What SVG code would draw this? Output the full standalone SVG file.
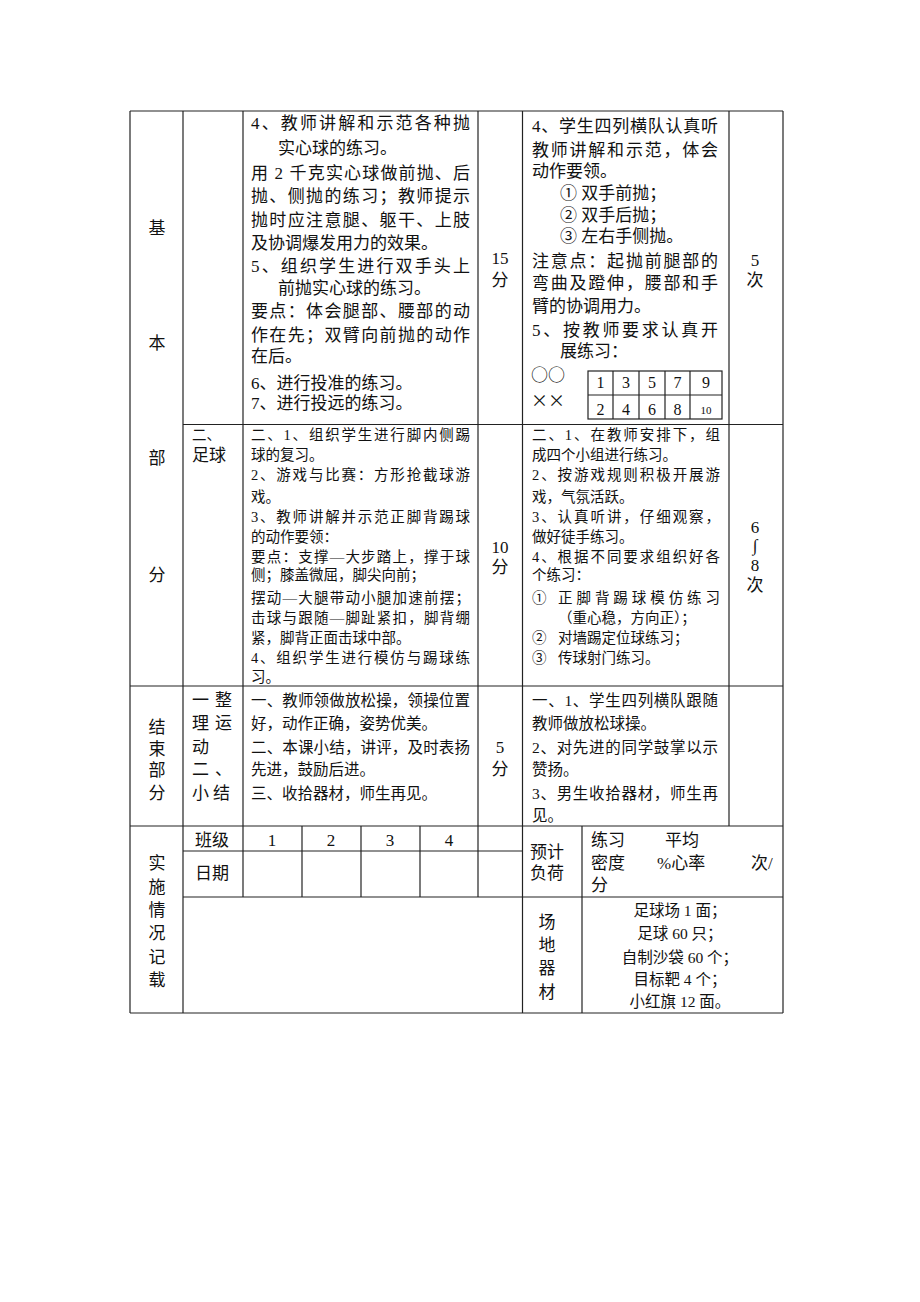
<svg xmlns="http://www.w3.org/2000/svg" width="920" height="1302" viewBox="0 0 920 1302">
<style>
text{font-family:"Liberation Serif","Noto Sans CJK SC",serif;fill:#111}
.a{font-size:17px}
.b{font-size:14.5px}
.c{font-size:15.5px}
.d{font-size:16px}
.k{font-family:"Noto Sans CJK SC",sans-serif}
.m{text-anchor:middle}
.g line,.g rect{stroke:#222;stroke-width:1.2;fill:none}
</style>
<rect width="920" height="1302" fill="#fff"/>
<g id="grid" class="g">
<line x1="130" y1="111" x2="783" y2="111"/>
<line x1="183" y1="424.5" x2="783" y2="424.5"/>
<line x1="130" y1="686" x2="783" y2="686"/>
<line x1="130" y1="826" x2="783" y2="826"/>
<line x1="183" y1="851" x2="522.5" y2="851"/>
<line x1="183" y1="897" x2="783" y2="897"/>
<line x1="130" y1="1013" x2="783" y2="1013"/>
<line x1="130" y1="111" x2="130" y2="1013"/>
<line x1="183" y1="111" x2="183" y2="1013"/>
<line x1="243" y1="111" x2="243" y2="897"/>
<line x1="302" y1="826" x2="302" y2="897"/>
<line x1="361" y1="826" x2="361" y2="897"/>
<line x1="420" y1="826" x2="420" y2="897"/>
<line x1="478" y1="111" x2="478" y2="897"/>
<line x1="522.5" y1="111" x2="522.5" y2="1013"/>
<line x1="582" y1="826" x2="582" y2="1013"/>
<line x1="729" y1="111" x2="729" y2="826"/>
<line x1="783" y1="111" x2="783" y2="1013"/>
<rect x="588" y="371" width="134" height="48"/>
<line x1="588" y1="395" x2="722" y2="395"/>
<line x1="613" y1="371" x2="613" y2="419"/>
<line x1="639" y1="371" x2="639" y2="419"/>
<line x1="665" y1="371" x2="665" y2="419"/>
<line x1="690" y1="371" x2="690" y2="419"/>
</g>
<g id="col1">
<text class="a m" x="157" y="234">基</text>
<text class="a m" x="157" y="349">本</text>
<text class="a m" x="157" y="464">部</text>
<text class="a m" x="157" y="581">分</text>
<text class="a m" x="157" y="733">结</text>
<text class="a m" x="157" y="755">束</text>
<text class="a m" x="157" y="776">部</text>
<text class="a m" x="157" y="799">分</text>
<text class="a m" x="157" y="869">实</text>
<text class="a m" x="157" y="893">施</text>
<text class="a m" x="157" y="916">情</text>
<text class="a m" x="157" y="939">况</text>
<text class="a m" x="157" y="963">记</text>
<text class="a m" x="157" y="986">载</text>
</g>
<g id="row1-content">
<text class="a" x="251" y="129" textLength="219" lengthAdjust="spacing">4、教师讲解和示范各种抛</text>
<text class="a" x="278" y="154">实心球的练习。</text>
<text class="a" x="251" y="179" textLength="219" lengthAdjust="spacing">用 2 千克实心球做前抛、后</text>
<text class="a" x="251" y="202" textLength="219" lengthAdjust="spacing">抛、侧抛的练习；教师提示</text>
<text class="a" x="251" y="226" textLength="219" lengthAdjust="spacing">抛时应注意腿、躯干、上肢</text>
<text class="a" x="251" y="249">及协调爆发用力的效果。</text>
<text class="a" x="251" y="272" textLength="219" lengthAdjust="spacing">5、组织学生进行双手头上</text>
<text class="a" x="278" y="294">前抛实心球的练习。</text>
<text class="a" x="251" y="317" textLength="219" lengthAdjust="spacing">要点：体会腿部、腰部的动</text>
<text class="a" x="251" y="341" textLength="219" lengthAdjust="spacing">作在先；双臂向前抛的动作</text>
<text class="a" x="251" y="362">在后。</text>
<text class="a" x="251" y="389">6、进行投准的练习。</text>
<text class="a" x="251" y="409">7、进行投远的练习。</text>
<text class="a m" x="500" y="264">15</text>
<text class="a m" x="500" y="286">分</text>
<text class="a" x="532" y="132" textLength="186" lengthAdjust="spacing">4、学生四列横队认真听</text>
<text class="a" x="532" y="156" textLength="186" lengthAdjust="spacing">教师讲解和示范，体会</text>
<text class="a" x="532" y="177">动作要领。</text>
<text class="a" x="560" y="199">① 双手前抛；</text>
<text class="a" x="560" y="221">② 双手后抛；</text>
<text class="a" x="560" y="242">③ 左右手侧抛。</text>
<text class="a" x="532" y="267" textLength="186" lengthAdjust="spacing">注意点：起抛前腿部的</text>
<text class="a" x="532" y="289" textLength="186" lengthAdjust="spacing">弯曲及蹬伸，腰部和手</text>
<text class="a" x="532" y="312">臂的协调用力。</text>
<text class="a" x="532" y="336" textLength="186" lengthAdjust="spacing">5、按教师要求认真开</text>
<text class="a" x="560" y="357">展练习：</text>
<text class="a k" x="531" y="381">○○</text>
<text class="a k" x="531" y="407">××</text>
<text class="d m" x="600.5" y="388">1</text>
<text class="d m" x="626" y="388">3</text>
<text class="d m" x="652" y="388">5</text>
<text class="d m" x="677.5" y="388">7</text>
<text class="d m" x="706" y="388">9</text>
<text class="d m" x="600.5" y="415">2</text>
<text class="d m" x="626" y="415">4</text>
<text class="d m" x="652" y="415">6</text>
<text class="d m" x="677.5" y="415">8</text>
<text class="m" style="font-size:11px" x="706" y="414">10</text>
<text class="a m" x="755" y="266">5</text>
<text class="a m" x="755" y="286">次</text>
</g>
<g id="row2-content">
<text class="b" x="192" y="440">二、</text>
<text class="a" x="192" y="461">足球</text>
<text class="b" x="251" y="440" textLength="219" lengthAdjust="spacing">二、1、组织学生进行脚内侧踢</text>
<text class="b" x="251" y="460">球的复习。</text>
<text class="b" x="251" y="480" textLength="219" lengthAdjust="spacing">2、游戏与比赛：方形抢截球游</text>
<text class="b" x="251" y="502">戏。</text>
<text class="b" x="251" y="522" textLength="219" lengthAdjust="spacing">3、教师讲解并示范正脚背踢球</text>
<text class="b" x="251" y="542">的动作要领：</text>
<text class="b" x="251" y="562" textLength="219" lengthAdjust="spacing">要点：支撑—大步踏上，撑于球</text>
<text class="b" x="251" y="580">侧；膝盖微屈，脚尖向前；</text>
<text class="b" x="251" y="603" textLength="219" lengthAdjust="spacing">摆动—大腿带动小腿加速前摆；</text>
<text class="b" x="251" y="623" textLength="219" lengthAdjust="spacing">击球与跟随—脚趾紧扣，脚背绷</text>
<text class="b" x="251" y="643">紧，脚背正面击球中部。</text>
<text class="b" x="251" y="663" textLength="219" lengthAdjust="spacing">4、组织学生进行模仿与踢球练</text>
<text class="b" x="251" y="682">习。</text>
<text class="a m" x="500" y="553">10</text>
<text class="a m" x="500" y="573">分</text>
<text class="b" x="532" y="440" textLength="188" lengthAdjust="spacing">二、1、在教师安排下，组</text>
<text class="b" x="532" y="460">成四个小组进行练习。</text>
<text class="b" x="532" y="480" textLength="188" lengthAdjust="spacing">2、按游戏规则积极开展游</text>
<text class="b" x="532" y="502">戏，气氛活跃。</text>
<text class="b" x="532" y="522" textLength="188" lengthAdjust="spacing">3、认真听讲，仔细观察，</text>
<text class="b" x="532" y="542">做好徒手练习。</text>
<text class="b" x="532" y="562" textLength="188" lengthAdjust="spacing">4、根据不同要求组织好各</text>
<text class="b" x="532" y="580">个练习：</text>
<text class="b" x="532" y="603">①</text>
<text class="b" x="558" y="603" textLength="162" lengthAdjust="spacing">正脚背踢球模仿练习</text>
<text class="b" x="558" y="623">（重心稳，方向正）；</text>
<text class="b" x="532" y="643">②</text>
<text class="b" x="558" y="643">对墙踢定位球练习；</text>
<text class="b" x="532" y="663">③</text>
<text class="b" x="558" y="663">传球射门练习。</text>
<text class="a m" x="755" y="533">6</text>
<text class="a m" x="755" y="551">∫</text>
<text class="a m" x="755" y="571">8</text>
<text class="a m" x="755" y="591">次</text>
</g>
<g id="row3-content">
<text class="a" x="192" y="706" textLength="40" lengthAdjust="spacing">一 整</text>
<text class="a" x="192" y="729" textLength="40" lengthAdjust="spacing">理 运</text>
<text class="a" x="192" y="753">动</text>
<text class="a" x="192" y="775" textLength="40" lengthAdjust="spacing">二 、</text>
<text class="a" x="192" y="799" textLength="38" lengthAdjust="spacing">小结</text>
<text class="c" x="251" y="706" textLength="219" lengthAdjust="spacing">一、教师领做放松操，领操位置</text>
<text class="c" x="251" y="729">好，动作正确，姿势优美。</text>
<text class="c" x="251" y="753" textLength="219" lengthAdjust="spacing">二、本课小结，讲评，及时表扬</text>
<text class="c" x="251" y="775">先进，鼓励后进。</text>
<text class="c" x="251" y="799">三、收拾器材，师生再见。</text>
<text class="a m" x="500" y="753">5</text>
<text class="a m" x="500" y="775">分</text>
<text class="c" x="532" y="706" textLength="186" lengthAdjust="spacing">一、1、学生四列横队跟随</text>
<text class="c" x="532" y="729">教师做放松球操。</text>
<text class="c" x="532" y="753" textLength="186" lengthAdjust="spacing">2、对先进的同学鼓掌以示</text>
<text class="c" x="532" y="775">赞扬。</text>
<text class="c" x="532" y="799" textLength="186" lengthAdjust="spacing">3、男生收拾器材，师生再</text>
<text class="c" x="532" y="821">见。</text>
</g>
<g id="record">
<text class="a m" x="212" y="846">班级</text>
<text class="a m" x="272" y="846">1</text>
<text class="a m" x="331" y="846">2</text>
<text class="a m" x="390" y="846">3</text>
<text class="a m" x="449" y="846">4</text>
<text class="a m" x="212" y="879">日期</text>
<text class="a m" x="547" y="858">预计</text>
<text class="a m" x="547" y="879">负荷</text>
<text class="a" x="591" y="846">练习</text>
<text class="a" x="665" y="846">平均</text>
<text class="a" x="591" y="869">密度</text>
<text class="a" x="657" y="869">%心率</text>
<text class="a" x="751" y="869">次/</text>
<text class="a" x="591" y="891">分</text>
<text class="a m" x="547" y="928">场</text>
<text class="a m" x="547" y="951">地</text>
<text class="a m" x="547" y="974">器</text>
<text class="a m" x="547" y="998">材</text>
<text class="c m" x="680" y="916">足球场 1 面；</text>
<text class="c m" x="680" y="939">足球 60 只；</text>
<text class="c m" x="680" y="963">自制沙袋 60 个；</text>
<text class="c m" x="680" y="985">目标靶 4 个；</text>
<text class="c m" x="680" y="1007">小红旗 12 面。</text>
</g>
</svg>
